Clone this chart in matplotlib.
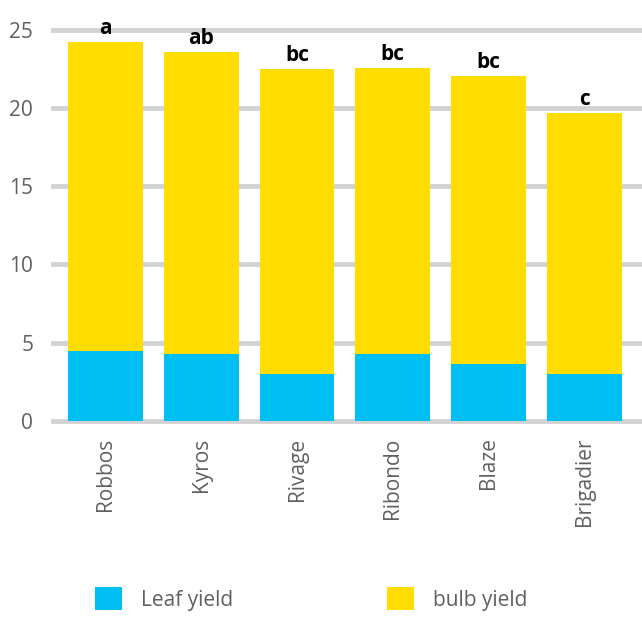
import matplotlib
matplotlib.use("Agg")
import matplotlib.pyplot as plt
import numpy as np
from matplotlib.patches import Patch

plt.rcParams['font.family'] = ['Open Sans', 'DejaVu Sans']

varieties = ['Robbos', 'Kyros', 'Rivage', 'Ribondo', 'Blaze', 'Brigadier']
leaf_yield = [4.48, 4.28, 3.02, 4.28, 3.60, 3.02]
bulb_yield = [19.75, 19.32, 19.48, 18.29, 18.46, 16.67]
letters = ['a', 'ab', 'bc', 'bc', 'bc', 'c']
y_ticks = [0, 5, 10, 15, 20, 25]

blue = '#00C0F3'
yellow = '#FFDD00'
grid_col = '#D3D3D5'
text_col = '#606060'

fig = plt.figure(figsize=(6.42, 6.17), dpi=100)
ax = fig.add_axes([0.082, 0.318, 0.918, 0.634])

x = np.arange(len(varieties))
ax.bar(x, leaf_yield, width=0.78, color=blue, zorder=3)
ax.bar(x, bulb_yield, width=0.78, bottom=leaf_yield, color=yellow, zorder=3)

# significance letters above each stack
totals = [l + b for l, b in zip(leaf_yield, bulb_yield)]
for xi, t, lab in zip(x, totals, letters):
    ax.annotate(lab, xy=(xi, t), xytext=(0, 2), textcoords='offset points',
                ha='center', va='bottom', fontsize=15, fontweight='bold',
                color='black', annotation_clip=False, zorder=5)

ax.set_xlim(-0.55, 5.6)
ax.set_ylim(0, 25)
ax.set_yticks(y_ticks)
for yt in y_ticks:
    ax.axhline(yt, color=grid_col, linewidth=3.5, zorder=1, clip_on=False)

ax.set_xticks(x)
ax.set_xticklabels(varieties, rotation=90, fontsize=15, color=text_col)
ax.tick_params(axis='y', labelsize=15, labelcolor=text_col, length=0, pad=14)
ax.tick_params(axis='x', length=0, pad=12)
for s in ax.spines.values():
    s.set_visible(False)

handles = [Patch(facecolor=blue, label='Leaf yield'),
           Patch(facecolor=yellow, label='bulb yield')]
fig.legend(handles=handles, loc='lower left', bbox_to_anchor=(0.119, -0.02),
           ncol=2, frameon=False, fontsize=15, labelcolor=text_col,
           handlelength=1.3, handleheight=1.3, handletextpad=0.9,
           columnspacing=7.4)

fig.savefig('out.png', dpi=100)
